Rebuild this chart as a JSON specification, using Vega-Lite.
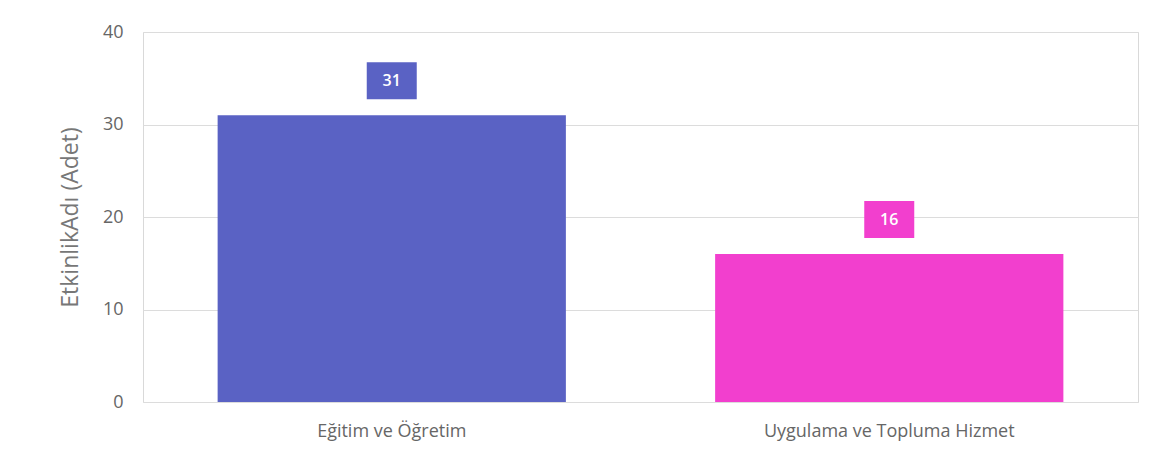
{
  "$schema": "https://vega.github.io/schema/vega-lite/v6.json",
  "width": 995,
  "height": 370,
  "autosize": {"type": "none"},
  "padding": {"left": 143, "top": 32, "right": 26, "bottom": 70},
  "background": "white",
  "data": {"values": [
    {"kategori": "Eğitim ve Öğretim", "adet": 31},
    {"kategori": "Uygulama ve Topluma Hizmet", "adet": 16}
  ]},
  "encoding": {
    "x": {"field": "kategori", "type": "nominal", "sort": null,
      "scale": {"paddingInner": 0.3, "paddingOuter": 0.15},
      "axis": {"title": null, "labelAngle": 0, "ticks": false, "domain": false, "labelPadding": 20, "labelFontSize": 18, "labelLimit": 0, "labelColor": "#666666", "labelFont": "Open Sans"}},
    "y": {"field": "adet", "type": "quantitative",
      "scale": {"domain": [0, 40]},
      "axis": {"title": "EtkinlikAdı (Adet)", "values": [0, 10, 20, 30, 40], "ticks": false, "domain": false, "labelPadding": 20, "labelFontSize": 18, "labelColor": "#666666", "labelFont": "Open Sans", "titleFont": "Open Sans", "titleFontSize": 23, "titleFontWeight": "normal", "titleColor": "#777777", "titlePadding": 20, "gridColor": "#dcdcdc"}},
    "color": {"field": "kategori", "type": "nominal", "legend": null,
      "scale": {"domain": ["Eğitim ve Öğretim", "Uygulama ve Topluma Hizmet"], "range": ["#5A62C4", "#F23FCE"]}}
  },
  "layer": [
    {"mark": {"type": "bar"}},
    {"mark": {"type": "point", "filled": true, "opacity": 1, "size": 2500, "shape": "M-1,-0.74 L1,-0.74 L1,0.74 L-1,0.74 Z", "yOffset": -34.5, "strokeWidth": 0}},
    {"mark": {"type": "text", "color": "white", "font": "Open Sans", "fontSize": 16, "fontWeight": 600, "baseline": "middle", "align": "center", "yOffset": -34.5},
     "encoding": {"text": {"field": "adet", "type": "quantitative"}, "color": {"value": "white"}}}
  ],
  "config": {"view": {"stroke": "#d9d9d9"}}
}
